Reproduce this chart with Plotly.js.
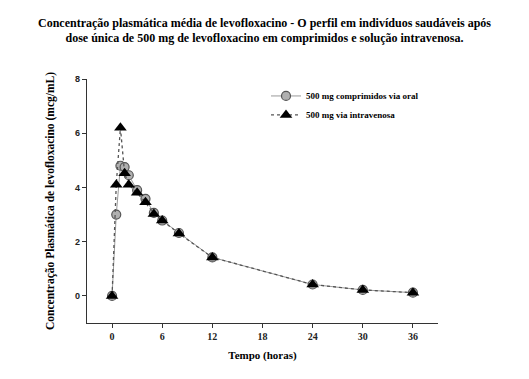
<!DOCTYPE html>
<html><head><meta charset="utf-8">
<script src="https://cdn.plot.ly/plotly-3.0.1.min.js"></script>
<style>html,body{margin:0;padding:0;background:#fff}#chart{width:529px;height:379px}</style>
</head><body><div id="chart"></div>
<script>
const timeHours = [0, 0.5, 1, 1.5, 2, 3, 4, 5, 6, 8, 12, 24, 30, 36];
const oralConc = [0, 3.0, 4.8, 4.75, 4.45, 3.9, 3.58, 3.06, 2.78, 2.32, 1.42, 0.42, 0.22, 0.12];
const ivConc = [0, 4.1, 6.2, 4.52, 4.1, 3.8, 3.45, 3.02, 2.78, 2.3, 1.42, 0.42, 0.22, 0.12];
const seriesNames = ["500 mg comprimidos via oral", "500 mg via intravenosa"];
const xTicks = [0, 6, 12, 18, 24, 30, 36];
const yTicks = [0, 2, 4, 6, 8];

const serif = "Liberation Serif, Times New Roman, serif";
const traces = [
  {x: timeHours, y: oralConc, name: seriesNames[0], type: "scatter", mode: "lines+markers",
   line: {color: "#9a9a9a", width: 1},
   marker: {symbol: "circle", size: 9, color: "#b0b0b0", line: {color: "#555", width: 1.2}}},
  {x: timeHours, y: ivConc, name: seriesNames[1], type: "scatter", mode: "lines+markers",
   line: {color: "#555", width: 1.3, dash: "dot"},
   marker: {symbol: "triangle-up", size: 11, color: "#000", line: {color: "#000", width: 0}}}
];
const layout = {
  width: 529, height: 379,
  margin: {l: 87, r: 91, t: 79, b: 56},
  paper_bgcolor: "#fff", plot_bgcolor: "#fff",
  title: {text: "Concentração plasmática média de levofloxacino - O perfil em indivíduos saudáveis após<br>dose única de 500 mg de levofloxacino em comprimidos e solução intravenosa.",
    font: {family: serif, size: 12, color: "#000", weight: "bold"}, x: 0.5, xanchor: "center", yref: "container", y: 0.93, yanchor: "bottom"},
  xaxis: {range: [-3, 39], tickvals: xTicks, ticks: "outside", ticklen: 4, tickcolor: "#333",
    showline: true, linecolor: "#333", linewidth: 1.2, showgrid: false, zeroline: false,
    tickfont: {family: serif, size: 10, color: "#222", weight: "bold"},
    title: {text: "Tempo (horas)", font: {family: serif, size: 11, color: "#000", weight: "bold"}, standoff: 10}},
  yaxis: {range: [-1, 8], tickvals: yTicks, ticks: "outside", ticklen: 4, tickcolor: "#333",
    showline: true, linecolor: "#333", linewidth: 1.2, showgrid: false, zeroline: false,
    tickfont: {family: "Liberation Sans, Arial, sans-serif", size: 9, color: "#222", weight: "bold"},
    title: {text: "Concentração Plasmática de levofloxacino (mcg/mL)", font: {family: serif, size: 11.5, color: "#000", weight: "bold"}, standoff: 18}},
  legend: {x: 0.51, y: 0.99, xanchor: "left", yanchor: "top", bgcolor: "rgba(0,0,0,0)",
    font: {family: serif, size: 9, color: "#000", weight: "bold"}, itemwidth: 30, tracegroupgap: 4},
  showlegend: true
};
Plotly.newPlot("chart", traces, layout, {displayModeBar: false, staticPlot: true});
</script></body></html>
